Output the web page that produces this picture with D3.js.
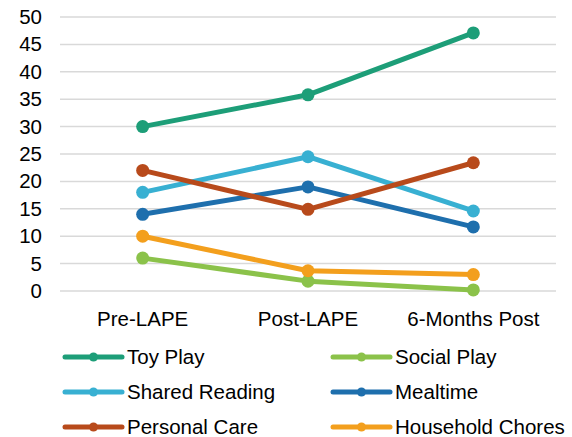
<!DOCTYPE html>
<html>
<head>
<meta charset="utf-8">
<script src="https://cdn.jsdelivr.net/npm/d3@7/dist/d3.min.js"></script>
<style>
  html, body { margin: 0; padding: 0; background: #fff; }
  svg { display: block; font-family: "Liberation Sans", Arial, sans-serif; }
</style>
</head>
<body>
<svg id="chart" width="572" height="437"></svg>
<script>
// Time points on the x axis
const categories = ["Pre-LAPE", "Post-LAPE", "6-Months Post"];

// Series values per time point
const seriesNames = ["Toy Play", "Social Play", "Shared Reading", "Mealtime", "Personal Care", "Household Chores"];
const toyPlay = [30, 35.8, 47.1];
const socialPlay = [6, 1.8, 0.2];
const sharedReading = [18, 24.5, 14.6];
const mealtime = [14, 19, 11.7];
const personalCare = [22, 14.9, 23.4];
const householdChores = [10, 3.7, 3.0];
const seriesValues = [toyPlay, socialPlay, sharedReading, mealtime, personalCare, householdChores];
const seriesColors = ["#1d9e78", "#8bc24a", "#38b0d2", "#1e6fad", "#b84a1b", "#f39f1d"];

// Y axis ticks
const yTicks = [0, 5, 10, 15, 20, 25, 30, 35, 40, 45, 50];

const svg = d3.select("#chart");
const plot = { left: 60, right: 556, top: 17, bottom: 291 };

const x = d3.scaleBand().domain(categories).range([plot.left, plot.right]);
const y = d3.scaleLinear().domain([0, 50]).range([plot.bottom, plot.top]);
const cx = c => x(c) + x.bandwidth() / 2;

// Gridlines
svg.append("g")
  .selectAll("line")
  .data(yTicks)
  .join("line")
  .attr("x1", plot.left).attr("x2", plot.right)
  .attr("y1", d => y(d)).attr("y2", d => y(d))
  .attr("stroke", "#d9d9d9").attr("stroke-width", 1.5);

// Y axis labels
const yAxis = d3.axisLeft(y).tickValues(yTicks).tickSize(0).tickPadding(0);
const yG = svg.append("g").attr("transform", `translate(${plot.left - 18},0)`).call(yAxis);
yG.select(".domain").remove();
yG.selectAll("text").attr("font-size", 20.5).attr("fill", "#000")
  .attr("font-family", "Liberation Sans, Arial, sans-serif");

// X axis labels
const xAxis = d3.axisBottom(x).tickSize(0).tickPadding(0);
const xG = svg.append("g").attr("transform", `translate(0,${plot.bottom + 20})`).call(xAxis);
xG.select(".domain").remove();
xG.selectAll("text").attr("font-size", 20.5).attr("fill", "#000")
  .attr("font-family", "Liberation Sans, Arial, sans-serif");

// Lines and markers
const line = d3.line().x((d, i) => cx(categories[i])).y(d => y(d));
seriesValues.forEach((vals, s) => {
  const g = svg.append("g");
  g.append("path").datum(vals)
    .attr("d", line)
    .attr("fill", "none")
    .attr("stroke", seriesColors[s])
    .attr("stroke-width", 5)
    .attr("stroke-linejoin", "round");
  g.selectAll("circle").data(vals).join("circle")
    .attr("cx", (d, i) => cx(categories[i]))
    .attr("cy", d => y(d))
    .attr("r", 6.5)
    .attr("fill", seriesColors[s]);
});

// Legend: two columns, three rows
const legendCols = [65, 333];
const legendRows = [357, 392, 427];
const legend = svg.append("g");
seriesNames.forEach((name, i) => {
  const lx = legendCols[i % 2];
  const ly = legendRows[Math.floor(i / 2)];
  const item = legend.append("g");
  item.append("line")
    .attr("x1", lx).attr("x2", lx + 57)
    .attr("y1", ly).attr("y2", ly)
    .attr("stroke", seriesColors[i]).attr("stroke-width", 5)
    .attr("stroke-linecap", "round");
  item.append("circle")
    .attr("cx", lx + 28.5).attr("cy", ly).attr("r", 4.5)
    .attr("fill", seriesColors[i]);
  item.append("text")
    .attr("x", lx + 62).attr("y", ly)
    .attr("dy", "0.35em")
    .attr("font-size", 20.5)
    .attr("fill", "#000")
    .text(name);
});
</script>
</body>
</html>
